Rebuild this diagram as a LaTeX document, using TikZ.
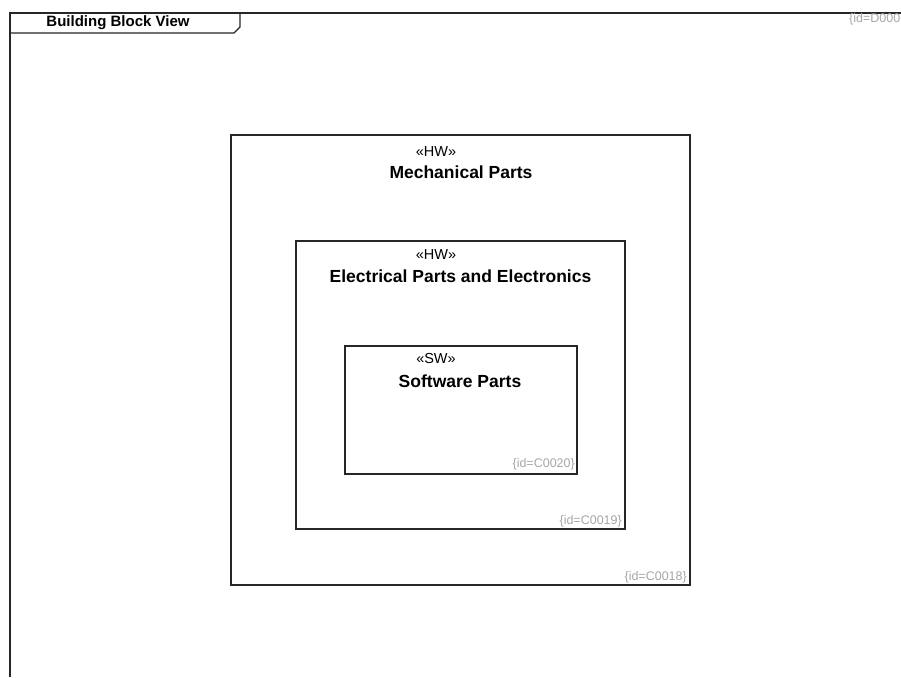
\documentclass[tikz,border=0pt]{standalone}
\usepackage{fontspec}
\setmainfont{Liberation Sans}
\begin{document}
\begin{tikzpicture}[x=1pt,y=-1pt,
  frameline/.style={line width=1.3pt,draw=black!85},
  blockbox/.style={line width=1.3pt,draw=black!85},
  stereo/.style={font=\fontsize{14.5}{17}\selectfont,inner sep=0pt},
  bname/.style={font=\fontsize{17.5}{21}\selectfont\bfseries,inner sep=0pt},
  idlabel/.style={font=\fontsize{12.5}{15}\selectfont,text=black!35,inner sep=0pt},
  ftitle/.style={font=\fontsize{15}{18}\selectfont\bfseries,inner sep=0pt}]
\useasboundingbox (0,0) rectangle (901,677);
% frame
\draw[frameline] (10,677) -- (10,13) -- (905,13);
\draw[frameline] (10,33) -- (234,33) -- (240,27) -- (240,13);
\node[ftitle] (ftitle) at (118,23) {Building Block View};
\node[idlabel,anchor=west] (fid) at (849,19) {\{id=D0006\}};
% outer block
\node[blockbox,minimum width=459,minimum height=450,inner sep=0pt] (c18) at (460.5,360) {};
\node[stereo] (c18s) at (436,152) {«HW»};
\node[bname] (c18n) at (461,172) {Mechanical Parts};
\node[idlabel,anchor=south east] (c18id) at (687,583) {\{id=C0018\}};
% middle block
\node[blockbox,minimum width=329,minimum height=288,inner sep=0pt] (c19) at (460.5,385) {};
\node[stereo] (c19s) at (436,255) {«HW»};
\node[bname] (c19n) at (460.5,276) {Electrical Parts and Electronics};
\node[idlabel,anchor=south east] (c19id) at (622,527) {\{id=C0019\}};
% inner block
\node[blockbox,minimum width=232,minimum height=128,inner sep=0pt] (c20) at (461,410) {};
\node[stereo] (c20s) at (436,359) {«SW»};
\node[bname] (c20n) at (460,381) {Software Parts};
\node[idlabel,anchor=south east] (c20id) at (575,470) {\{id=C0020\}};
\end{tikzpicture}
\end{document}
